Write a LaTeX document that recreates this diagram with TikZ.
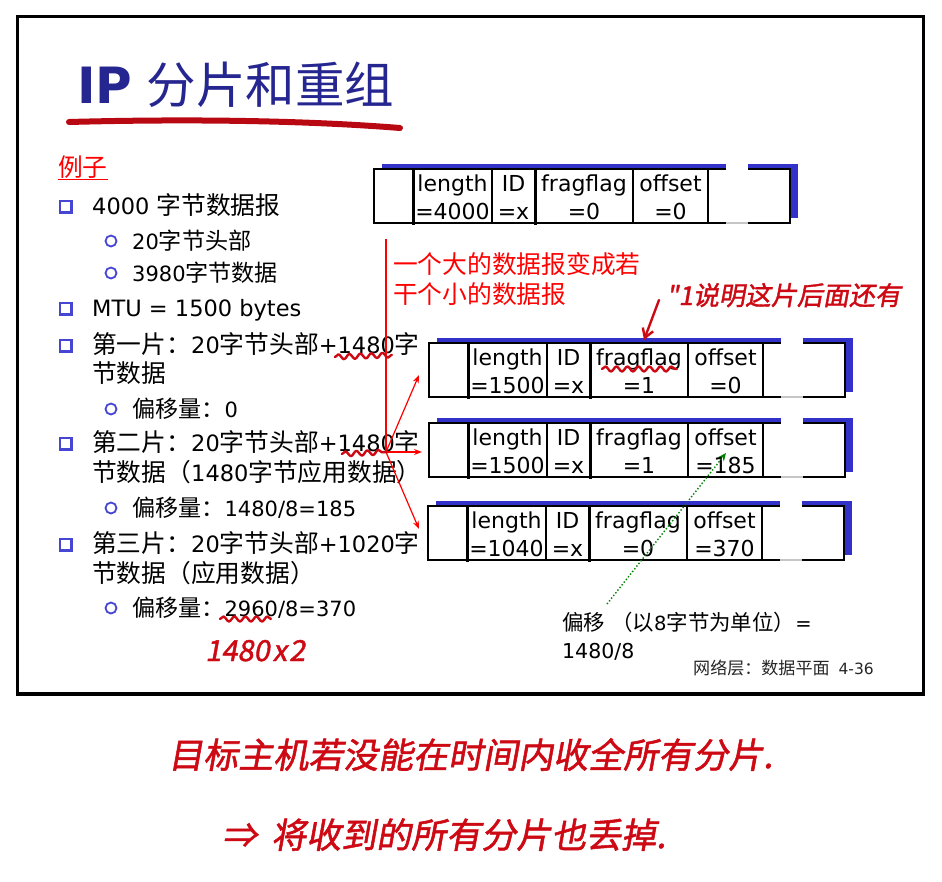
\documentclass[tikz,border=0pt]{standalone}
\usepackage{fontspec}
\usetikzlibrary{arrows.meta,decorations.pathmorphing}
\setmainfont{DejaVu Sans}
\newfontfamily\cjkfont[Scale=1.1]{Noto Sans CJK SC}
\newfontfamily\handfont[FakeSlant=0.18,FakeBold=1.5]{Noto Sans CJK SC}
% runs of CJK characters switch to the CJK family automatically
\newcount\cjkcode
\newXeTeXintercharclass\cjkclass
\def\usecjk{\cjkfont}
\cjkcode="3000
\loop\ifnum\cjkcode<"A000 \XeTeXcharclass\cjkcode=\cjkclass \advance\cjkcode by 1 \repeat
\cjkcode="FF00
\loop\ifnum\cjkcode<"FFF0 \XeTeXcharclass\cjkcode=\cjkclass \advance\cjkcode by 1 \repeat
\XeTeXinterchartoks 0 \cjkclass = {\begingroup\usecjk}
\XeTeXinterchartoks 4095 \cjkclass = {\begingroup\usecjk}
\XeTeXinterchartoks \cjkclass 0 = {\endgroup}
\XeTeXinterchartoks \cjkclass 4095 = {\endgroup}
\XeTeXinterchartokenstate=1

\definecolor{titleblue}{RGB}{38,38,145}
\definecolor{shadowblue}{RGB}{50,50,200}
\definecolor{bulletblue}{RGB}{70,70,210}
\definecolor{inkred}{RGB}{205,10,20}
\definecolor{notegreen}{RGB}{0,128,0}

\tikzset{
  body/.style={anchor=base west, inner sep=0pt, font=\fontsize{22.5}{27}\selectfont},
  sub/.style={anchor=base west, inner sep=0pt, font=\fontsize{21}{25}\selectfont},
  celltxt/.style={anchor=base, inner sep=0pt, font=\fontsize{22}{26}\selectfont},
  hand/.style={anchor=base west, inner sep=0pt, text=inkred},
  inkline/.style={draw=inkred, line width=2.4pt, line cap=round, line join=round},
  squiggle/.style={inkline, decorate, decoration={snake, amplitude=2.5pt, segment length=11pt}},
  splitarrow/.style={draw=red, line width=1.2pt, -{Stealth[length=8pt,width=6pt]}},
  sqbullet/.pic={
    \fill[bulletblue] (-6,-7) rectangle (8,7);
    \fill[white] (-4.5,-5.5) rectangle (5,4);
  },
  cirbullet/.pic={
    \draw[bulletblue, line width=1.8pt, fill=white] (0,0) circle (5.5);
  },
}
\newcommand\handsize[1]{\handfont\def\usecjk{\handfont}\fontsize{#1}{#1}\selectfont}

% one datagram: name, left, top, length, fragflag, offset
\newcommand\packet[6]{%
  \begin{scope}[shift={(#2,#3)}]
    \fill[shadowblue] (8,-5) rectangle (424,49);
    \draw[line width=2pt, fill=white] (0,0) rectangle (416,54);
    \fill[white] (352,-6) rectangle (374,53);
    \draw[gray!45, line width=1.2pt] (352,54) -- (374,54);
    \draw[line width=3pt] (39,0) -- (39,56);
    \draw[line width=3pt] (161,0) -- (161,56);
    \draw[line width=1.4pt] (118,0) -- (118,54);
    \draw[line width=1.4pt] (259,0) -- (259,54);
    \draw[line width=1.4pt] (334,0) -- (334,54);
    \node[celltxt] (#1-len)  at (78.5,22)  {length};
    \node[celltxt] (#1-lenv) at (78.5,50)  {=#4};
    \node[celltxt] (#1-id)   at (139.5,22) {ID};
    \node[celltxt] (#1-idv)  at (139.5,50) {=x};
    \node[celltxt] (#1-frag) at (210,22)   {fragflag};
    \node[celltxt] (#1-fragv) at (210,50)  {=#5};
    \node[celltxt] (#1-off)  at (296.5,22) {offset};
    \node[celltxt] (#1-offv) at (296.5,50) {=#6};
  \end{scope}}

\begin{document}
\begin{tikzpicture}[x=1pt,y=-1pt]
\useasboundingbox (0,0) rectangle (942,881);
\fill[white] (0,0) rectangle (942,881);

% slide frame
\draw[line width=3.5pt] (17.5,16.5) rectangle (923.5,694);

% title
\node[anchor=base west, inner sep=0pt, text=titleblue, font=\fontsize{45}{54}\selectfont]
  (title) at (77,103) {{\fontsize{50}{60}\selectfont\bfseries IP} 分片和重组};
\draw[draw=inkred!90!black, line width=6pt, line cap=round]
  (69,122) .. controls (180,119) and (300,120) .. (400,128);

% example list
\node[body, text=red] (ex) at (58,176) {例子};
\draw[red, line width=1.4pt] (58,179.5) -- (108,179.5);

\pic at (65,207) {sqbullet};
\node[body] (l1) at (92,214) {4000 字节数据报};
\pic at (111,241) {cirbullet};
\node[sub] (l2) at (132,249) {20字节头部};
\pic at (111,273) {cirbullet};
\node[sub] (l3) at (132,281) {3980字节数据};
\pic at (65,309) {sqbullet};
\node[body] (l4) at (92,316) {MTU = 1500 bytes};
\pic at (65,346) {sqbullet};
\node[body] (l5) at (92,353) {第一片：20字节头部+1480字};
\node[body] (l5b) at (92,382) {节数据};
\pic at (111,409) {cirbullet};
\node[sub] (l6) at (132,417) {偏移量：0};
\pic at (65,444) {sqbullet};
\node[body] (l7) at (92,451) {第二片：20字节头部+1480字};
\node[body] (l7b) at (92,481) {节数据（1480字节应用数据）};
\pic at (111,508) {cirbullet};
\node[sub] (l8) at (132,516) {偏移量：1480/8=185};
\pic at (65,545) {sqbullet};
\node[body] (l9) at (92,552) {第三片：20字节头部+1020字};
\node[body] (l9b) at (92,582) {节数据（应用数据）};
\pic at (111,608) {cirbullet};
\node[sub] (l10) at (132,616) {偏移量：2960/8=370};

% datagrams
\packet{big}{374}{169}{4000}{0}{0}
\packet{fa}{429}{343}{1500}{1}{0}
\packet{fb}{429}{423}{1500}{1}{185}
\packet{fc}{428}{506}{1040}{0}{370}

% splitting into fragments
\node[body, text=red] (split1) at (393,273) {一个大的数据报变成若};
\node[body, text=red] (split2) at (393,303) {干个小的数据报};
\coordinate (stemtop) at (386,239);
\coordinate (fork) at (386,452);
\coordinate (toa) at (419,375);
\coordinate (tob) at (422,452);
\coordinate (toc) at (419,529);
\draw[red, line width=1.2pt] (stemtop) -- (fork);
\draw[splitarrow] (fork) -- (toa);
\draw[splitarrow] (fork) -- (tob);
\draw[splitarrow] (fork) -- (toc);

% offset note
\node[anchor=base west, inner sep=0pt, font=\fontsize{19.5}{24}\selectfont] (note1) at (562,630) {偏移 （以8字节为单位）=};
\node[anchor=base west, inner sep=0pt, font=\fontsize{20.5}{24}\selectfont] (note2) at (562,658) {1480/8};
\coordinate (notefrom) at (607,604);
\coordinate (noteto) at (726,453);
\draw[notegreen, line width=1.4pt, dotted, -{Stealth[length=8pt,width=7pt]}] (notefrom) -- (noteto);

% footer
\node[anchor=base west, inner sep=0pt, font=\fontsize{15.5}{18}\selectfont, text=black!85] (foot) at (693,674) {网络层：数据平面\hspace*{9pt}4-36};

% handwritten notes
\draw[squiggle] (335,357) -- (392,355);
\draw[squiggle] (342,454) -- (387,452);
\draw[squiggle] (220,619) -- (271,619);
\draw[squiggle] (602,369) -- (677,369);
\node[hand, font=\handsize{26}] (more) at (666,305) {"1说明这片后面还有};
\coordinate (morefrom) at (659,300);
\coordinate (moreto) at (644,340);
\draw[inkline, -{Straight Barb[length=9pt,width=11pt]}] (morefrom) -- (moreto);
\node[hand, font=\handsize{29}] (times) at (205,661) {1480\hspace{3pt}x\hspace{2pt}2};
\node[hand, font=\handsize{35}] (hw1) at (168,768) {目标主机若没能在时间内收全所有分片.};
\node[hand, font=\handsize{35}] (hw2) at (222,848) {⇒\hspace{14pt}将收到的所有分片也丢掉.};
\end{tikzpicture}
\end{document}
